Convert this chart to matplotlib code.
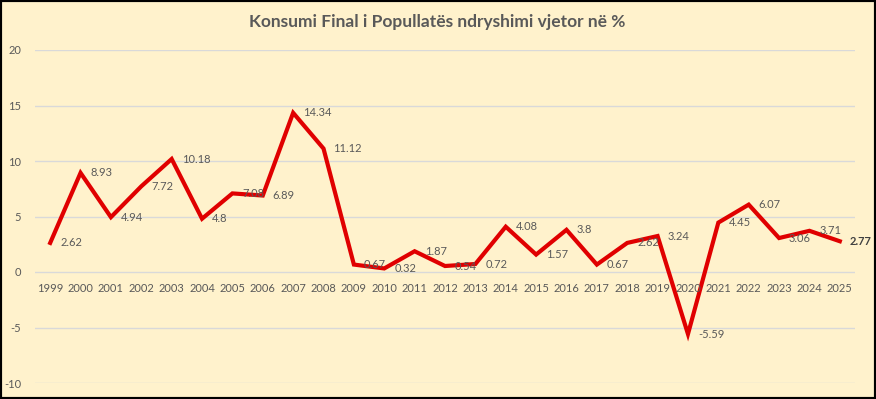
import matplotlib
matplotlib.use("Agg")
import matplotlib.pyplot as plt
from matplotlib.patches import Rectangle

years = [str(y) for y in range(1999, 2026)]
values = [2.62, 8.93, 4.94, 7.72, 10.18, 4.8, 7.08, 6.89, 14.34, 11.12,
          0.67, 0.32, 1.87, 0.54, 0.72, 4.08, 1.57, 3.8, 0.67, 2.62,
          3.24, -5.59, 4.45, 6.07, 3.06, 3.71, 2.77]
yticks = [-10, -5, 0, 5, 10, 15, 20]
title = "Konsumi Final i Popullatës ndryshimi vjetor në %"

plt.rcParams['font.family'] = ['Lato', 'DejaVu Sans']
bg = '#FFF2CC'
grey = '#595959'
W, H = 876, 399
fig = plt.figure(figsize=(W/100, H/100), dpi=100, facecolor=bg)
ax = fig.add_axes([35/W, 1-383/H, 820/W, 333/H])
ax.set_facecolor(bg)
x = list(range(len(years)))
ax.plot(x, values, color='#E00000', lw=3.0, solid_joinstyle='miter', zorder=3)
ax.set_xlim(-0.5, len(years)-0.5)
ax.set_ylim(-10, 20)
ax.set_yticks(yticks)
ax.set_yticklabels([str(v) for v in yticks], color=grey, fontsize=8)
ax.tick_params(axis='y', length=0, pad=10)
ax.set_xticks([])
for s in ax.spines.values():
    s.set_visible(False)
ax.grid(axis='y', color='#D9D9D9', lw=1)
ax.set_axisbelow(True)
for xi, yr in zip(x, years):
    ax.annotate(yr, (xi, 0), xytext=(0, -16), textcoords='offset pixels',
                ha='center', va='center', fontsize=8, color=grey)
for i, (xi, v) in enumerate(zip(x, values)):
    bold = i == len(values)-1
    ax.annotate(f"{v:g}", (xi, v), xytext=(10, 0), textcoords='offset pixels',
                ha='left', va='center', fontsize=8, color='#404040' if bold else grey,
                fontweight='bold' if bold else 'normal', zorder=4)
fig.text(437/W, 1-22/H, title, ha='center', va='center', fontsize=12.5,
         fontweight='bold', color=grey)
fig.patches.append(Rectangle((0, 0), 1, 1, transform=fig.transFigure, fill=False,
                             edgecolor='black', lw=3))
fig.savefig('out.png', dpi=100, facecolor=bg)
